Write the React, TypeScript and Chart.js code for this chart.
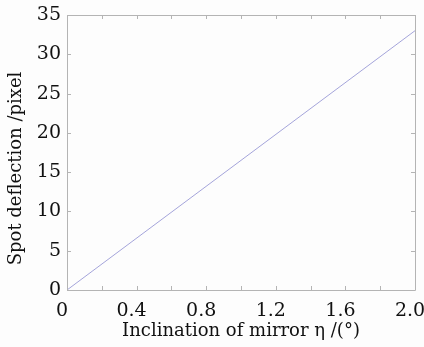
import React, { useEffect, useRef } from "react";
import { Chart, registerables } from "chart.js";

Chart.register(...registerables);

const inclination = [0, 2.0];
const deflection = [0, 33];
const xMin = 0, xMax = 2.0, xStep = 0.2;
const yMin = 0, yMax = 35, yStep = 5;
const xLabelEvery = [0, 0.4, 0.8, 1.2, 1.6, 2.0];
const xTitle = "Inclination of mirror η /(°)";
const yTitle = "Spot deflection /pixel";

const FONT = "'DejaVu Serif', 'Liberation Serif', serif";
const AXIS = "#b4b4b4";

const framePlugin = {
  id: "frameTicks",
  afterDatasetsDraw(chart: any) {
    const { ctx, chartArea: a, scales } = chart;
    const xs = scales.x, ys = scales.y;
    ctx.save();
    ctx.strokeStyle = AXIS;
    ctx.lineWidth = 1;
    ctx.beginPath();
    ctx.rect(Math.round(a.left) + 0.5, Math.round(a.top) + 0.5, Math.round(a.right - a.left), Math.round(a.bottom - a.top));
    const tl = 4;
    xs.ticks.forEach((t: any) => {
      const px = Math.round(xs.getPixelForValue(t.value)) + 0.5;
      ctx.moveTo(px, a.bottom); ctx.lineTo(px, a.bottom - tl);
      ctx.moveTo(px, a.top); ctx.lineTo(px, a.top + tl);
    });
    ys.ticks.forEach((t: any) => {
      const py = Math.round(ys.getPixelForValue(t.value)) + 0.5;
      ctx.moveTo(a.left, py); ctx.lineTo(a.left + tl, py);
      ctx.moveTo(a.right, py); ctx.lineTo(a.right - tl, py);
    });
    ctx.stroke();
    // y axis title
    ctx.fillStyle = "#111";
    ctx.font = `18px ${FONT}`;
    ctx.textAlign = "center";
    ctx.textBaseline = "middle";
    ctx.translate(16, (a.top + a.bottom) / 2 + 16);
    ctx.rotate(-Math.PI / 2);
    ctx.fillText(yTitle, 0, 0);
    ctx.restore();
  },
};

export default function App() {
  const ref = useRef<HTMLCanvasElement>(null);
  useEffect(() => {
    if (!ref.current) return;
    const chart = new Chart(ref.current, {
      type: "scatter",
      data: {
        datasets: [
          {
            data: inclination.map((x, i) => ({ x, y: deflection[i] })),
            showLine: true,
            borderColor: "#a4a4da",
            borderWidth: 1,
            pointRadius: 0,
          },
        ],
      },
      options: {
        animation: false,
        responsive: false,
        devicePixelRatio: 1,
        layout: { padding: { top: 15, right: 9, left: 0, bottom: 0 } },
        plugins: { legend: { display: false }, tooltip: { enabled: false } },
        scales: {
          x: {
            type: "linear",
            min: xMin,
            max: xMax,
            grid: { display: false, drawTicks: false },
            border: { display: false },
            ticks: {
              stepSize: xStep,
              autoSkip: false,
              maxRotation: 0,
              padding: 10,
              labelOffset: -5,
              color: "#111",
              font: { family: FONT, size: 19 },
              callback: (v: any) => {
                const n = Number(v);
                const hit = xLabelEvery.find((l) => Math.abs(l - n) < 1e-6);
                if (hit === undefined) return "";
                return hit === 0 ? "0" : hit.toFixed(1);
              },
            },
            title: {
              display: true,
              text: xTitle,
              color: "#111",
              font: { family: FONT, size: 18 },
              padding: { top: 0, bottom: 5 },
            },
            afterFit: (s: any) => { s.height = 57; s.paddingRight = 0; s.paddingLeft = 0; },
          },
          y: {
            type: "linear",
            min: yMin,
            max: yMax,
            grid: { display: false, drawTicks: false },
            border: { display: false },
            ticks: {
              stepSize: yStep,
              padding: 6,
              color: "#111",
              font: { family: FONT, size: 19 },
            },
            title: { display: false },
            afterFit: (s: any) => { s.width = 67; s.paddingTop = 0; s.paddingBottom = 0; },
          },
        },
      },
      plugins: [framePlugin],
    });
    return () => chart.destroy();
  }, []);
  return (
    <div style={{ position: "fixed", left: 0, top: 0, width: 424, height: 347, background: "#fdfdfd" }}>
      <canvas ref={ref} width={424} height={347} />
    </div>
  );
}
